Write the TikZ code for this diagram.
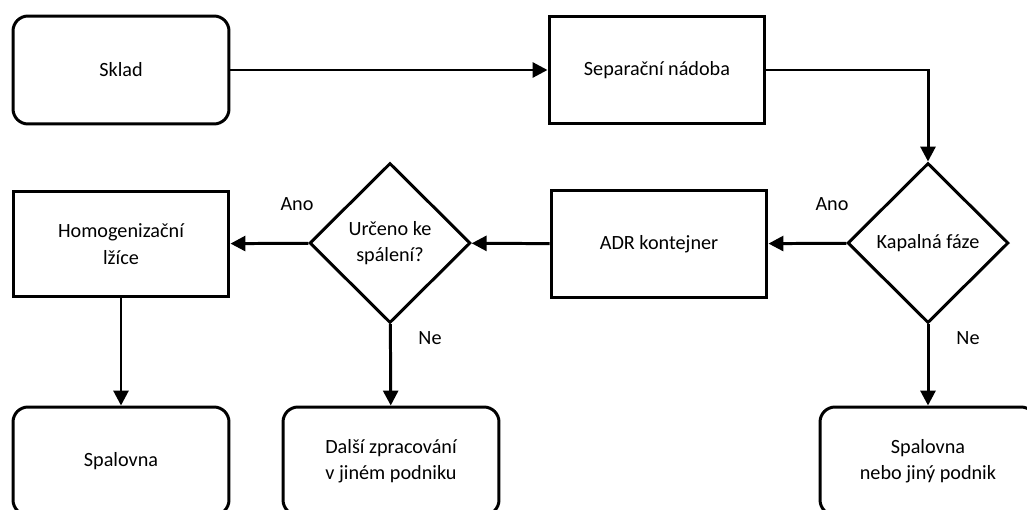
\documentclass[tikz,border=0pt]{standalone}
\usepackage{fontspec}
\setmainfont{Carlito}
\usetikzlibrary{shapes.geometric,arrows.meta}

\tikzset{
  krok/.style = {draw, line width=1.7pt, minimum width=4.32cm, minimum height=2.16cm,
                 align=center, font=\fontsize{11.5}{15}\selectfont},
  konec/.style = {krok, rounded corners=0.3cm},
  otazka/.style = {draw, diamond, line width=1.7pt, minimum width=3.22cm, minimum height=3.2cm,
                   inner sep=0pt, align=center, font=\fontsize{11.5}{15}\selectfont},
  tok/.style = {line width=1.7pt, -{Triangle[length=8.5pt,width=8.5pt]}},
  popis/.style = {font=\fontsize{11.5}{15}\selectfont}
}

\begin{document}
\begin{tikzpicture}[x=0.02cm, y=-0.02cm]
  \useasboundingbox (0,0) rectangle (1027,510);

  % horni rada
  \node[konec] (sklad) at (121,70) {Sklad};
  \node[krok] (separ) at (657,70) {Separační nádoba};

  % prostredni rada
  \node[otazka] (kapal) at (928,243) {Kapalná fáze};
  \node[krok, minimum height=2.14cm] (adr) at (659,244) {ADR kontejner};
  \node[otazka] (urceno) at (390,243) {Určeno ke\\ spálení?};
  \node[krok, minimum height=2.12cm] (homog) at (121,244) {Homogenizační\\ lžíce};

  % dolni rada
  \node[konec] (spal) at (121,461) {Spalovna};
  \node[konec] (dalsi) at (391,461) {Další zpracování\\ v jiném podniku};
  \node[konec] (jiny) at (928,461) {Spalovna\\ nebo jiný podnik};

  \draw[tok] (sklad) -- (separ);
  \draw[tok] (separ.east) -| (kapal.north);
  \draw[tok] (kapal) -- (adr);
  \draw[tok] (adr) -- (urceno);
  \draw[tok] (urceno) -- (homog);
  \draw[tok] (homog) -- (spal);
  \draw[tok] (urceno) -- (dalsi);
  \draw[tok] (kapal) -- (jiny);

  \node[popis] (ano1) at (832,204) {Ano};
  \node[popis] (ano2) at (297,204) {Ano};
  \node[popis] (ne1) at (968,338) {Ne};
  \node[popis] (ne2) at (430,338) {Ne};
\end{tikzpicture}
\end{document}
